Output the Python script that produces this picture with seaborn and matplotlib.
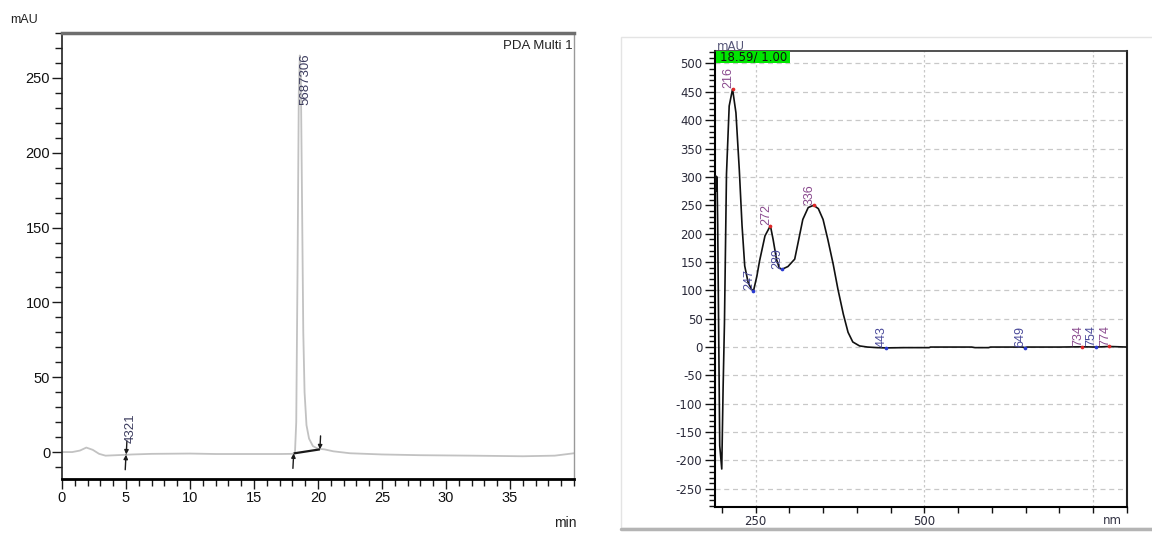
import matplotlib
matplotlib.use('Agg')
import matplotlib.pyplot as plt
import seaborn as sns
from matplotlib import font_manager as fm
from matplotlib.ticker import MultipleLocator, FixedLocator
from matplotlib.patches import Rectangle
from matplotlib.lines import Line2D

# ---------------- Chromatogram (left) ----------------
chrom_time = [0, 0.8, 1.4, 1.9, 2.4, 2.9, 3.4, 4.5, 5.5, 7, 10, 12, 15, 17, 18.0,
              18.2, 18.3, 18.4, 18.5, 18.58, 18.66, 18.75, 18.85, 18.95, 19.1,
              19.3, 19.6, 20.0, 20.5, 21.2, 22.5, 25, 28, 32, 36, 38.5, 40]
chrom_mAU = [0, 0, 1, 3, 1.5, -1.2, -2.4, -2.0, -1.6, -1.2, -1.0, -1.3, -1.3, -1.3, -1.2,
             -0.5, 20, 120, 240, 265, 250, 170, 80, 40, 18,
             9, 4, 2.2, 1.8, 0.5, -0.8, -1.6, -2.1, -2.4, -2.8, -2.4, -0.8]
integ_start_time = [5.0, 18.1]
integ_start_mAU = [-1.8, -0.9]
integ_end_time = [5.02, 20.15]
integ_end_mAU = [-1.6, 1.8]
peak_label_time = [5.35, 19.05]
peak_label_mAU = [6, 232]
peak_area_labels = ['4321', '5687306']
chrom_xticks = [0, 5, 10, 15, 20, 25, 30, 35]
chrom_yticks = [0, 50, 100, 150, 200, 250]

# ---------------- UV spectrum (right) ----------------
spec_nm = [190, 191, 192, 193, 194, 195, 197, 200, 202, 204, 207, 211, 216, 221, 226,
           230, 234, 239, 244, 247, 252, 256, 264, 272, 276, 281, 285, 289, 298, 308,
           313, 320, 328, 336, 343, 350, 357, 365, 372, 380, 387, 394, 404, 416, 430,
           443, 470, 507, 509, 570, 575, 595, 598, 645, 649, 652, 700, 734, 754, 774, 800]
spec_mAU = [280, 302, 275, 300, 216, 84, -174, -215, -72, 42, 305, 425, 455, 413, 312,
            215, 143, 114, 102, 99, 125, 152, 196, 214, 190, 155, 140, 137, 142, 155,
            184, 225, 246, 250, 244, 225, 190, 146, 102, 58, 26, 9, 2, 0, -1,
            -1.5, -1, -1, 0, 0, -1, -1, 0, 0, -1, 0, 0, 0.5, 0, 1, 0]
max_nm = [216, 272, 336, 734, 774]
max_mAU = [455, 214, 250, 0.5, 1]
min_nm = [247, 289, 443, 649, 754]
min_mAU = [99, 137, -1.5, -1, 0]
spec_yticks = [-250, -200, -150, -100, -50, 0, 50, 100, 150, 200, 250, 300, 350, 400, 450, 500]
spec_xticks = [250, 500, 750]
spec_xticklabels = ['250', '500', '']
spec_minor_xticks = [200, 300, 350, 400, 450, 550, 600, 650, 700, 800]
spectrum_box_label = '18.59/ 1.00'

# ---------------- style ----------------
sns.set_theme(style='white')
plt.rcParams['font.family'] = ['DejaVu Sans']
names = {f.name for f in fm.fontManager.ttflist}
narrow = 'Liberation Sans Narrow' if 'Liberation Sans Narrow' in names else 'Liberation Sans'

W, H = 1152, 534
fig = plt.figure(figsize=(11.52, 5.34), dpi=100)
fig.patch.set_facecolor('white')

# right panel screenshot frame
fig.add_artist(Rectangle((621 / W, 1 - 528 / H), (W - 621) / W + 0.01, (528 - 37) / H,
                         transform=fig.transFigure, facecolor='white',
                         edgecolor='#e4e4e4', lw=1, zorder=-1))
fig.add_artist(Line2D([621 / W, 1.0], [1 - 529 / H, 1 - 529 / H], transform=fig.transFigure,
                      color='#b4b4b4', lw=2.5, zorder=-1))

ax1 = fig.add_axes([62 / W, 1 - 479 / H, (574 - 62) / W, (479 - 33) / H])
ax2 = fig.add_axes([715 / W, 1 - 507 / H, (1127 - 715) / W, (507 - 51) / H])

# ---------- left chromatogram ----------
sns.lineplot(x=chrom_time, y=chrom_mAU, ax=ax1, color='#c2c2c2', lw=1.3)
for st, sy, et, ey in zip(integ_start_time, integ_start_mAU, integ_end_time, integ_end_mAU):
    ax1.plot([st, et], [sy, ey], color='k', lw=1.6, solid_capstyle='butt')
    ax1.annotate('', xy=(st, sy), xytext=(st - 0.06, sy - 10),
                 arrowprops=dict(arrowstyle='-|>', color='k', lw=1.0, mutation_scale=6,
                                 shrinkA=0, shrinkB=0))
    ax1.annotate('', xy=(et, ey), xytext=(et + 0.05, ey + 9),
                 arrowprops=dict(arrowstyle='-|>', color='k', lw=1.0, mutation_scale=6,
                                 shrinkA=0, shrinkB=0))
for t, y, lab in zip(peak_label_time, peak_label_mAU, peak_area_labels):
    ax1.text(t, y, lab, rotation=90, ha='center', va='bottom', fontsize=9.5,
             color='#3c3c5e', family='Liberation Sans')

ax1.set_xlim(0, 40)
ax1.set_ylim(-18, 280)
ax1.set_xticks(chrom_xticks, labels=[str(v) for v in chrom_xticks],
               fontfamily=narrow, fontsize=10.5)
ax1.set_yticks(chrom_yticks, labels=[str(v) for v in chrom_yticks],
               fontfamily=narrow, fontsize=10.5)
ax1.xaxis.set_minor_locator(MultipleLocator(1))
ax1.yaxis.set_minor_locator(MultipleLocator(10))
ax1.tick_params(which='both', bottom=True, left=True, top=False, right=False,
                direction='out', color='k', width=1, labelcolor='#111111')
ax1.tick_params(which='major', length=7, pad=1.5)
ax1.tick_params(which='minor', length=5)
ax1.set_xlabel('')
ax1.set_ylabel('')
ax1.spines['top'].set_color('#6e6e6e')
ax1.spines['top'].set_linewidth(2.5)
ax1.spines['bottom'].set_color('#000000')
ax1.spines['bottom'].set_linewidth(2.0)
ax1.spines['left'].set_color('#222222')
ax1.spines['left'].set_linewidth(1.2)
ax1.spines['right'].set_color('#999999')
ax1.spines['right'].set_linewidth(1.0)
ax1.text(0.998, 0.985, 'PDA Multi 1', transform=ax1.transAxes, ha='right', va='top',
         fontsize=9.5, family=narrow, color='#222222')
fig.text(10 / W, 1 - 20 / H, 'mAU', ha='left', va='center', fontsize=9,
         family=narrow, color='#222222')
fig.text(565 / W, 1 - 523 / H, 'min', ha='center', va='center', fontsize=10,
         family=narrow, color='#222222')

# ---------- right spectrum ----------
sns.lineplot(x=spec_nm, y=spec_mAU, ax=ax2, color='#111111', lw=1.2, zorder=3)
sns.scatterplot(x=max_nm, y=max_mAU, ax=ax2, color='#e02828', s=7, linewidth=0, zorder=4)
sns.scatterplot(x=min_nm, y=min_mAU, ax=ax2, color='#2a3ad0', s=7, linewidth=0, zorder=4)
for nm, v in zip(max_nm, max_mAU):
    ax2.annotate(str(nm), xy=(nm, v), xytext=(-3.2, 0.5), textcoords='offset points',
                 rotation=90, ha='center', va='bottom', fontsize=9,
                 color='#8a4a8e', family='Liberation Sans', zorder=5)
for nm, v in zip(min_nm, min_mAU):
    ax2.annotate(str(nm), xy=(nm, v), xytext=(-3.2, 0.5), textcoords='offset points',
                 rotation=90, ha='center', va='bottom', fontsize=9,
                 color='#4a4a9a', family='Liberation Sans', zorder=5)

ax2.set_xlim(190, 800)
ax2.set_ylim(-282, 522)
ax2.set_yticks(spec_yticks, labels=[str(v) for v in spec_yticks], fontsize=8.5)
ax2.set_xticks(spec_xticks, labels=spec_xticklabels, fontsize=8.5)
ax2.xaxis.set_minor_locator(FixedLocator(spec_minor_xticks))
ax2.yaxis.set_minor_locator(MultipleLocator(10))
ax2.grid(True, which='major', axis='y', color='#c8c8c8', linestyle=(0, (4, 3)), lw=0.9)
ax2.grid(True, which='major', axis='x', color='#c8c8c8', linestyle=(0, (2, 2)), lw=0.9)
ax2.tick_params(which='both', bottom=True, left=True, top=False, right=False,
                direction='out', color='#111111', width=1, labelcolor='#2a2a3a')
ax2.tick_params(axis='y', which='major', length=7, pad=2)
ax2.tick_params(axis='y', which='minor', length=4)
ax2.tick_params(axis='x', which='both', length=4, pad=2)
ax2.set_xlabel('')
ax2.set_ylabel('')
for side, lw, col in [('left', 1.5, '#000000'), ('bottom', 1.5, '#000000'),
                      ('top', 1.2, '#333333'), ('right', 1.5, '#222222')]:
    ax2.spines[side].set_linewidth(lw)
    ax2.spines[side].set_color(col)
ax2.add_patch(Rectangle((0.003, 0.9737), 0.18, 0.0263, transform=ax2.transAxes,
                        facecolor='#00e600', edgecolor='none', zorder=6, clip_on=False))
ax2.text(0.012, 0.987, spectrum_box_label, transform=ax2.transAxes, va='center', ha='left',
         fontsize=8.5, color='#111111', zorder=7)
fig.text(717 / W, 1 - 46 / H, 'mAU', ha='left', va='center', fontsize=8.5, color='#555577')
fig.text(1112 / W, 1 - 521 / H, 'nm', ha='center', va='center', fontsize=8.5, color='#333344')

fig.savefig('out.png', dpi=100, facecolor='white')
